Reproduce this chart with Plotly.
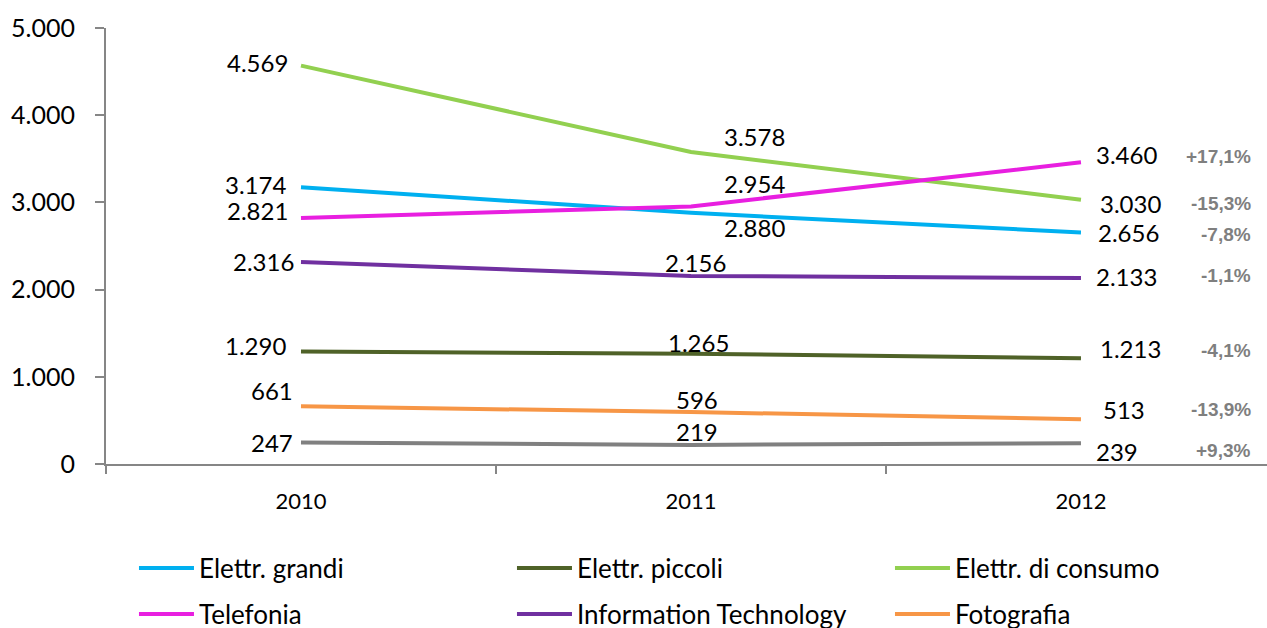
import plotly.graph_objects as go

# Data
years = ["2010", "2011", "2012"]
elettr_grandi = [3174, 2880, 2656]
elettr_piccoli = [1290, 1265, 1213]
elettr_consumo = [4569, 3578, 3030]
telefonia = [2821, 2954, 3460]
information_tech = [2316, 2156, 2133]
fotografia = [661, 596, 513]
altro = [247, 219, 239]

# 2012 vs 2011 change, as published
var_2012 = {
    "Elettr. grandi": "-7,8%",
    "Elettr. piccoli": "-4,1%",
    "Elettr. di consumo": "-15,3%",
    "Telefonia": "+17,1%",
    "Information Technology": "-1,1%",
    "Fotografia": "-13,9%",
    "Altro": "+9,3%",
}

series = [
    ("Elettr. grandi", elettr_grandi, "#00b0f0", "legend"),
    ("Elettr. piccoli", elettr_piccoli, "#4f6228", "legend"),
    ("Elettr. di consumo", elettr_consumo, "#92d050", "legend"),
    ("Telefonia", telefonia, "#e81fe0", "legend2"),
    ("Information Technology", information_tech, "#7030a0", "legend2"),
    ("Fotografia", fotografia, "#f79646", "legend2"),
    ("Altro", altro, "#808080", None),
]

# label placement per series: (xanchor, xshift, yshift) for each year
label_pos = {
    "Elettr. grandi": [("right", -13, 3), ("center", 64, -15), ("left", 15, 0)],
    "Elettr. piccoli": [("right", -13, 6), ("center", 8, 11), ("left", 17, 10)],
    "Elettr. di consumo": [("right", -11, 3), ("center", 64, 16), ("left", 17, -4)],
    "Telefonia": [("right", -11, 8), ("center", 64, 23), ("left", 13, 8)],
    "Information Technology": [("right", -5, 1), ("center", 5, 14), ("left", 13, 2)],
    "Fotografia": [("right", -6, 16), ("center", 6, 13), ("left", 20, 10)],
    "Altro": [("right", -6, 0), ("center", 6, 13), ("left", 13, -8)],
}
pct_yshift = {
    "Elettr. grandi": -2, "Elettr. piccoli": 8, "Elettr. di consumo": -4,
    "Telefonia": 6, "Information Technology": 3, "Fotografia": 10, "Altro": -7,
}

FONT = "Lato"

fig = go.Figure()
annotations = []
for name, vals, color, leg in series:
    trace = dict(
        x=years, y=vals, name=name, mode="lines",
        line=dict(color=color, width=4),
        showlegend=leg is not None,
        hoverinfo="skip",
    )
    if leg:
        trace["legend"] = leg
    fig.add_trace(go.Scatter(**trace))
    for i, v in enumerate(vals):
        xa, xs, ys = label_pos[name][i]
        annotations.append(dict(
            x=i, y=v, xref="x", yref="y", text=f"{v:,}".replace(",", "."),
            showarrow=False, xanchor=xa, yanchor="middle", xshift=xs, yshift=ys,
            font=dict(family=FONT, size=24, color="#000000"),
        ))
    annotations.append(dict(
        x=2, y=vals[2], xref="x", yref="y",
        text="<b>" + var_2012[name] + "</b>",
        showarrow=False, xanchor="right", yanchor="middle", xshift=172,
        yshift=pct_yshift[name],
        font=dict(family="Liberation Sans", size=19, color="#7f7f7f"),
    ))

legend_common = dict(
    orientation="h", x=0.0241, xanchor="left", yanchor="middle",
    entrywidth=308, entrywidthmode="pixels", itemwidth=55,
    font=dict(family=FONT, size=26), bgcolor="rgba(0,0,0,0)",
)

fig.update_layout(
    width=1267, height=628,
    margin=dict(l=106, r=0, t=28, b=164, autoexpand=False),
    paper_bgcolor="white", plot_bgcolor="white",
    separators=",.",
    font=dict(family=FONT, color="#000000"),
    annotations=annotations,
    legend=dict(y=-0.2385, **legend_common),
    legend2=dict(y=-0.344, **legend_common),
)
fig.update_xaxes(
    type="category", range=[-0.5, 2.477],
    showline=True, linecolor="#868686", linewidth=2,
    ticks="outside", tickson="boundaries", ticklen=8, tickcolor="#868686", tickwidth=2,
    tickfont=dict(family=FONT, size=22), ticklabelstandoff=17,
    showgrid=False, zeroline=False,
)
fig.update_yaxes(
    range=[0, 5000], tickvals=[0, 1000, 2000, 3000, 4000, 5000], tickformat=",d",
    showline=True, linecolor="#868686", linewidth=2,
    ticks="outside", ticklen=9, tickcolor="#868686", tickwidth=2,
    tickfont=dict(family=FONT, size=25), ticklabelstandoff=15,
    showgrid=False, zeroline=False,
)

fig.write_html("out.html")
